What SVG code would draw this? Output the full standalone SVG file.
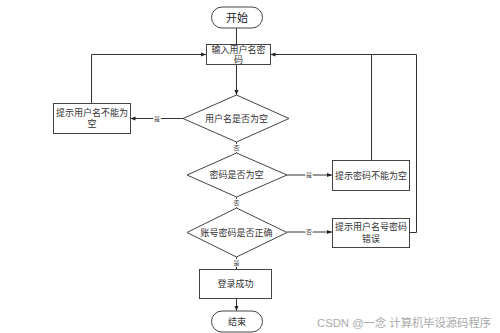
<svg xmlns="http://www.w3.org/2000/svg" width="500" height="333" viewBox="0 0 500 333">
<defs>
<marker id="ah" viewBox="0 0 10 10" refX="10" refY="5" markerWidth="5" markerHeight="5" orient="auto-start-reverse">
<path d="M0,1 L10,5 L0,9 z" fill="#222"/>
</marker>
<style>
.n{fill:#fff;stroke:#444;stroke-width:1}
.t{font-family:"Liberation Sans","Noto Sans CJK SC",sans-serif;font-size:9px;fill:#333;text-anchor:middle}
.tt{font-family:"Liberation Sans","Noto Sans CJK SC",sans-serif;font-size:11px;fill:#222;text-anchor:middle}
.c{fill:none;stroke:#333;stroke-width:1}
.a{marker-end:url(#ah)}
.l{font-family:"Liberation Sans","Noto Sans CJK SC",sans-serif;font-size:6px;fill:#444;text-anchor:middle;stroke:#fff;stroke-width:2px;paint-order:stroke}
.w{font-family:"Liberation Sans","Noto Sans CJK SC",sans-serif;font-size:11px;fill:#aaa}
</style>
</defs>
<rect width="500" height="333" fill="#fff"/>
<g id="connectors">
<path class="c" d="M236.5,28 V44.5"/>
<path class="c a" d="M236.5,64.5 V95"/>
<path class="c a" d="M183,118.5 H130.5"/>
<path class="c a" d="M91.5,103 V54.5 H206"/>
<path class="c a" d="M236.5,142 V153"/>
<path class="c a" d="M287,175 H332"/>
<path class="c a" d="M371.5,160 V54.5 H270.5"/>
<path class="c a" d="M236.5,197 V208"/>
<path class="c a" d="M287,232 H332"/>
<path class="c" d="M409,232.5 H416.5 V54.5 H371.5"/>
<path class="c a" d="M236.5,257 V269"/>
<path class="c a" d="M236.5,298.5 V311"/>
<text class="l" x="157" y="120.5">是</text>
<text class="l" x="236.5" y="149.5">否</text>
<text class="l" x="309" y="177">是</text>
<text class="l" x="236.5" y="204.5">否</text>
<text class="l" x="309" y="234">否</text>
<text class="l" x="236.5" y="264.5">是</text>
</g>
<g id="start">
<rect class="n" x="211.5" y="7" width="51" height="21" rx="10.5"/>
<text class="tt" x="237" y="21.5">开始</text>
</g>
<g id="input">
<rect class="n" x="206.5" y="44.5" width="64" height="20"/>
<text class="t" x="238.5" y="53">输入用户名密</text>
<text class="t" x="238.5" y="63">码</text>
</g>
<g id="check-user">
<polygon class="n" points="236.5,95 289,118.5 236.5,142 183,118.5"/>
<text class="t" x="236.5" y="121.5">用户名是否为空</text>
</g>
<g id="user-empty">
<rect class="n" x="53.5" y="103.5" width="77" height="30"/>
<text class="t" x="92" y="116">提示用户名不能为</text>
<text class="t" x="92" y="127">空</text>
</g>
<g id="check-pwd">
<polygon class="n" points="236.5,153 287,175 236.5,197 187,175"/>
<text class="t" x="236.5" y="178">密码是否为空</text>
</g>
<g id="pwd-empty">
<rect class="n" x="332.5" y="160.5" width="77" height="30"/>
<text class="t" x="371" y="178.5">提示密码不能为空</text>
</g>
<g id="check-correct">
<polygon class="n" points="236.5,208 287,232.5 236.5,257 187,232.5"/>
<text class="t" x="236.5" y="235.5">账号密码是否正确</text>
</g>
<g id="wrong">
<rect class="n" x="332.5" y="218.5" width="77" height="29"/>
<text class="t" x="371" y="230">提示用户名号密码</text>
<text class="t" x="371" y="242">错误</text>
</g>
<g id="success">
<rect class="n" x="199.5" y="269.5" width="72" height="29"/>
<text class="t" x="235.5" y="287">登录成功</text>
</g>
<g id="end">
<rect class="n" x="211.5" y="311" width="51" height="21" rx="10.5"/>
<text class="t" x="237" y="325">结束</text>
</g>
<text class="w" x="317" y="327" textLength="174" lengthAdjust="spacingAndGlyphs">CSDN @一念 计算机毕设源码程序</text>
</svg>
